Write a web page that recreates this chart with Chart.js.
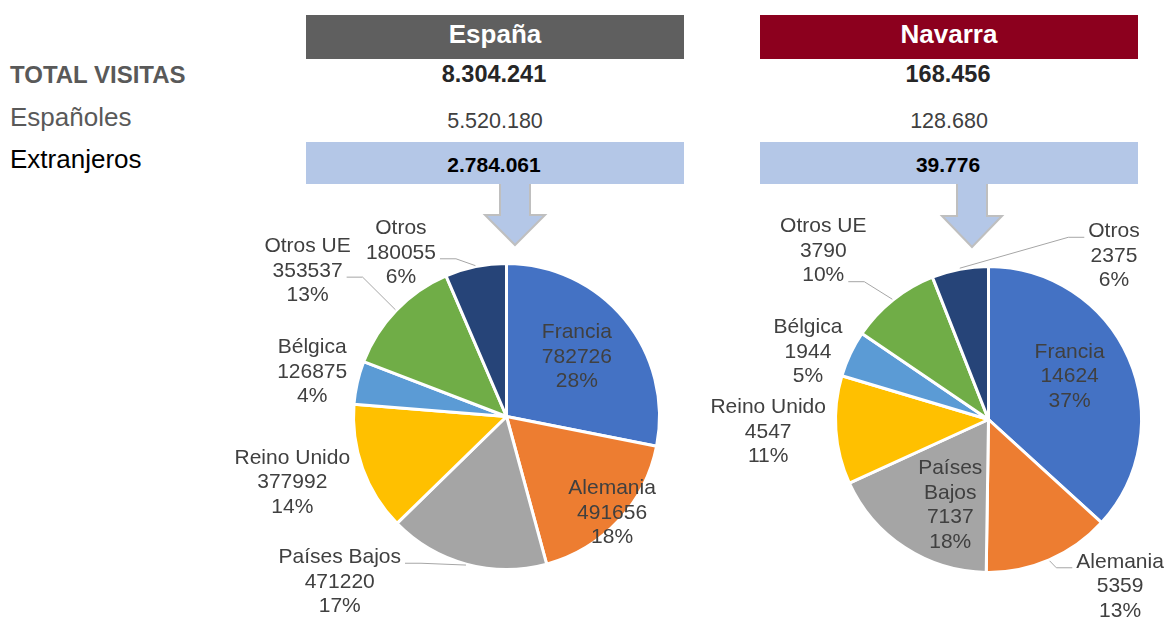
<!DOCTYPE html>
<html lang="es">
<head>
  <meta charset="UTF-8">
  <title>Visitas extranjeras - España y Navarra</title>
  <script src="https://cdn.jsdelivr.net/npm/chart.js"></script>
  <style>
    body { margin: 0; width: 1165px; height: 619px; overflow: hidden; background: #fff;
           font-family: "Liberation Sans", Arial, sans-serif; position: relative; }
    .caja { position: absolute; }
    .txt { position: absolute; line-height: 1; white-space: nowrap; }
    canvas { position: absolute; }
    svg { position: absolute; left: 0; top: 0; }
  </style>
</head>
<body>
  <svg width="1165" height="619" id="flechas">
    <polygon points="500,180 530,180 530,215 545,215 515,245 485,215 500,215" fill="#B4C7E7" stroke="#BFBFBF" stroke-width="2"/>
    <polygon points="957,180 987,180 987,216 1002,216 972,247 942,216 957,216" fill="#B4C7E7" stroke="#BFBFBF" stroke-width="2"/>
  </svg>
  <div id="tabla"></div>
  <canvas id="pieEspana" width="500" height="429" style="left:200px;top:190px"></canvas>
  <canvas id="pieNavarra" width="465" height="429" style="left:700px;top:190px"></canvas>

  <script>
    // Datos
    const ambitos = ['España', 'Navarra'];
    const filas = ['TOTAL VISITAS', 'Españoles', 'Extranjeros'];
    const totalVisitas = [8304241, 168456];
    const visitasEspanoles = [5520180, 128680];
    const visitasExtranjeros = [2784061, 39776];

    const paises = ['Francia', 'Alemania', 'Países Bajos', 'Reino Unido', 'Bélgica', 'Otros UE', 'Otros'];
    const extranjerosEspana = [782726, 491656, 471220, 377992, 126875, 353537, 180055];
    const extranjerosNavarra = [14624, 5359, 7137, 4547, 1944, 3790, 2375];

    const colores = ['#4472C4', '#ED7D31', '#A5A5A5', '#FFC000', '#5B9BD5', '#70AD47', '#264478'];

    // miles con punto
    function fmt(n) {
      return String(n).replace(/\B(?=(\d{3})+(?!\d))/g, '.');
    }

    // cabecera y tabla
    const tabla = document.getElementById('tabla');
    function caja(x, y, w, h, color) {
      const d = document.createElement('div');
      d.className = 'caja';
      d.style.cssText = `left:${x}px;top:${y}px;width:${w}px;height:${h}px;background:${color}`;
      tabla.appendChild(d);
    }
    // baseline -> top para line-height 1
    function texto(t, x, base, size, peso, color, centrado) {
      const d = document.createElement('div');
      d.className = 'txt';
      d.textContent = t;
      d.style.fontSize = size + 'px';
      d.style.fontWeight = peso;
      d.style.color = color;
      d.style.top = (base - 0.8465 * size) + 'px';
      if (centrado) {
        d.style.left = (x - 200) + 'px';
        d.style.width = '400px';
        d.style.textAlign = 'center';
      } else {
        d.style.left = x + 'px';
      }
      tabla.appendChild(d);
    }

    const colX = [306, 760];
    const colW = 378;
    const colorCab = ['#5F5F5F', '#8C001E'];
    ambitos.forEach((a, i) => {
      const cx = colX[i] + colW / 2;
      caja(colX[i], 15, colW, 44, colorCab[i]);
      texto(a, cx, 43, 26, 'bold', '#fff', true);
      texto(fmt(totalVisitas[i]), cx - 1, 83, 23.5, 'bold', '#262626', true);
      texto(fmt(visitasEspanoles[i]), cx, 129, 21.5, 'normal', '#404040', true);
      caja(colX[i], 142, colW, 42, '#B4C7E7');
      texto(fmt(visitasExtranjeros[i]), cx - 1, 172, 21, 'bold', '#000', true);
    });
    texto(filas[0], 10, 83, 24, 'bold', '#595959', false);
    texto(filas[1], 10, 126, 26, 'normal', '#595959', false);
    texto(filas[2], 10, 168, 26, 'normal', '#000', false);

    // porcentajes que suman 100 (resto mayor)
    function porcentajes(vals) {
      const total = vals.reduce((a, b) => a + b, 0);
      const raw = vals.map(v => v / total * 100);
      const out = raw.map(Math.floor);
      let falta = 100 - out.reduce((a, b) => a + b, 0);
      const orden = raw.map((r, i) => [r - Math.floor(r), i]).sort((a, b) => b[0] - a[0]);
      for (let k = 0; k < falta; k++) out[orden[k][1]]++;
      return out;
    }

    const etiquetas = {
      id: 'etiquetas',
      afterDatasetsDraw(chart, args, opts) {
        const ctx = chart.ctx;
        const data = chart.data.datasets[0].data;
        const pct = porcentajes(data);
        const arcs = chart.getDatasetMeta(0).data;
        const lh = 24.5;
        ctx.save();
        ctx.font = '21px "Liberation Sans", Arial, sans-serif';
        ctx.textAlign = 'center';
        ctx.textBaseline = 'middle';
        arcs.forEach((arc, i) => {
          const p = arc.getProps(['x', 'y', 'startAngle', 'endAngle', 'outerRadius'], true);
          const nombre = chart.data.labels[i];
          const lineas = (opts.partir.includes(i) ? nombre.split(' ') : [nombre])
            .concat([String(data[i]), pct[i] + '%']);
          const lx = p.x + opts.posiciones[i][0] * p.outerRadius;
          const ly = p.y + opts.posiciones[i][1] * p.outerRadius;
          const top = ly - (lineas.length - 1) * lh / 2;
          ctx.fillStyle = '#404040';
          lineas.forEach((t, k) => ctx.fillText(t, lx, top + k * lh));

          // linea guia hacia la linea de texto indicada
          if (i in opts.guias) {
            const k = opts.guias[i];
            const mid = (p.startAngle + p.endAngle) / 2;
            const px = p.x + (p.outerRadius + 1) * Math.cos(mid);
            const py = p.y + (p.outerRadius + 1) * Math.sin(mid);
            const halfW = ctx.measureText(lineas[k]).width / 2;
            const lado = lx < px ? 1 : -1;
            const borde = lx + lado * (halfW + 4);
            const codo = borde + lado * 16;
            const yl = top + k * lh + 6;
            ctx.strokeStyle = '#A6A6A6';
            ctx.lineWidth = 1;
            ctx.beginPath();
            ctx.moveTo(px, py);
            ctx.lineTo(codo, yl);
            ctx.lineTo(borde, yl);
            ctx.stroke();
          }
        });
        ctx.restore();
      }
    };

    function crearPie(id, valores, padding, posiciones, guias, partir) {
      return new Chart(document.getElementById(id), {
        type: 'pie',
        data: {
          labels: paises,
          datasets: [{
            data: valores,
            backgroundColor: colores,
            borderColor: '#fff',
            borderWidth: 3
          }]
        },
        options: {
          responsive: false,
          animation: false,
          events: [],
          layout: { padding: padding },
          plugins: {
            legend: { display: false },
            tooltip: { enabled: false },
            etiquetas: { posiciones: posiciones, guias: guias, partir: partir }
          }
        },
        plugins: [etiquetas]
      });
    }

    crearPie('pieEspana', extranjerosEspana,
      { left: 152, right: 39, top: 72, bottom: 48 },
      [[0.46, -0.39], [0.69, 0.63], [-1.09, 1.08], [-1.40, 0.43], [-1.27, -0.29], [-1.30, -0.95], [-0.69, -1.07]],
      { 2: 0, 5: 1, 6: 1 }, []);

    crearPie('pieNavarra', extranjerosNavarra,
      { left: 134, right: 22, top: 75, bottom: 45 },
      [[0.53, -0.28], [0.86, 1.09], [-0.25, 0.56], [-1.44, 0.08], [-1.18, -0.44], [-1.08, -1.10], [0.82, -1.07]],
      { 1: 0, 5: 2, 6: 0 }, [2]);
  </script>
</body>
</html>
